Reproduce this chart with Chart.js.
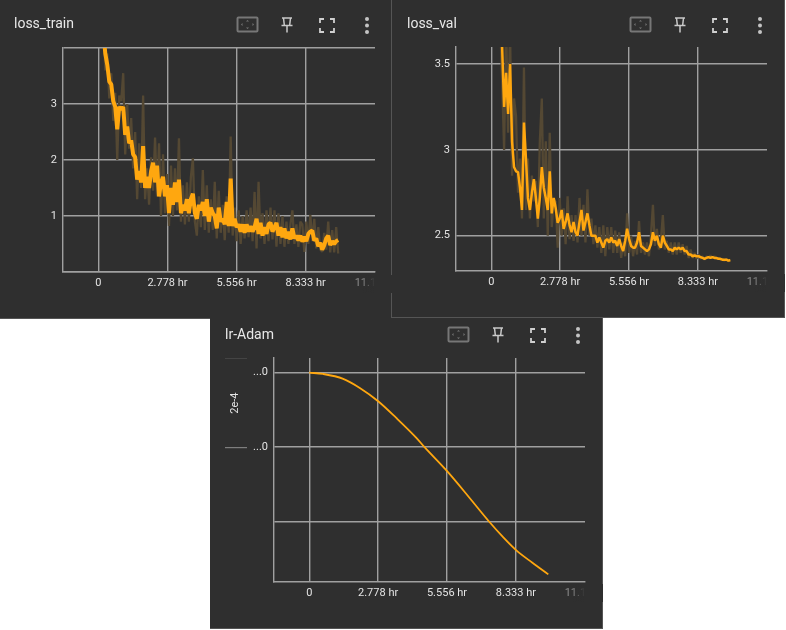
<!DOCTYPE html>
<html>
<head>
<meta charset="utf-8">
<title>TensorBoard scalars</title>
<script src="https://cdn.jsdelivr.net/npm/chart.js@4"></script>
<style>
  html, body { margin: 0; padding: 0; background: #fff; overflow: hidden; }
  .panel { position: absolute; background: #2f2f2f; box-sizing: border-box; border-right: 1px solid #555; border-bottom: 1px solid #555; }
  .panel canvas { position: absolute; left: 0; top: 0; }
  .name { position: absolute; left: 14px; top: 15px; color: #e8e8e8; font: 14px Roboto, sans-serif; }
  .cover { position: absolute; left: 352px; top: 0; width: 41px; height: 18px; background: linear-gradient(90deg, rgba(47,47,47,0) 0, rgba(47,47,47,0) 10px, #2f2f2f 23px); }
  .icons { position: absolute; left: 236px; top: 16px; }
</style>
</head>
<body>
<div class="panel" id="p1" style="left:0;top:0;width:392px;height:319px">
  <canvas id="trainChart" width="390" height="318"></canvas>
  <div class="name">loss_train</div>
  <svg class="icons" width="140" height="18"><use href="#bar"/></svg>
  <div class="cover" style="top:275px"></div>
</div>
<div class="panel" id="p2" style="left:392px;top:0;width:393px;height:318px">
  <canvas id="valChart" width="390" height="317"></canvas>
  <div class="name" style="left:15px">loss_val</div>
  <svg class="icons" style="left:237px" width="140" height="18"><use href="#bar"/></svg>
  <div class="cover" style="top:274px"></div>
</div>
<div class="panel" id="p3" style="left:210px;top:318px;width:393px;height:311px">
  <canvas id="lrChart" width="390" height="310"></canvas>
  <div class="name" style="left:15px;top:8px">lr-Adam</div>
  <svg class="icons" style="left:237px;top:8px" width="140" height="18"><use href="#bar"/></svg>
  <div class="cover" style="top:266px"></div>
</div>
<svg width="0" height="0" style="position:absolute">
  <defs>
    <g id="bar" fill="none">
      <rect x="1.5" y="1.5" width="20" height="14" rx="1" stroke="#777" stroke-width="2"/>
      <path d="M11.5 4l-1.5 1.5h3zM11.5 13l-1.5-1.5h3zM5 8.5l1.5-1.5v3zM18 8.5l-1.5-1.5v3z" fill="#777"/>
      <path d="M46 2h10M47.5 2l.8 7M54.5 2l-.8 7M45.5 9.5h11M51 9.5v7" stroke="#c9c9c9" stroke-width="1.5"/>
      <path d="M84 7v-4h4M94 3h4v4M98 12v4h-4M88 16h-4v-4" stroke="#d0d0d0" stroke-width="1.8"/>
      <circle cx="131" cy="3" r="2" fill="#c4c4c4"/>
      <circle cx="131" cy="9.5" r="2" fill="#c4c4c4"/>
      <circle cx="131" cy="16" r="2" fill="#c4c4c4"/>
    </g>
  </defs>
</svg>
<script>
// hours on the x axis
const hours = [
  0.2, 0.28, 0.36, 0.44, 0.52, 0.6, 0.68, 0.76, 0.84, 0.92,
  1.0, 1.08, 1.16, 1.24, 1.32, 1.4, 1.48, 1.56, 1.64, 1.72,
  1.8, 1.88, 1.96, 2.04, 2.12, 2.2, 2.28, 2.36, 2.44, 2.52,
  2.6, 2.68, 2.76, 2.84, 2.92, 3.0, 3.08, 3.16, 3.24, 3.32,
  3.4, 3.48, 3.56, 3.64, 3.72, 3.8, 3.88, 3.96, 4.04, 4.12,
  4.2, 4.28, 4.36, 4.44, 4.52, 4.6, 4.68, 4.76, 4.84, 4.92,
  5.0, 5.08, 5.16, 5.24, 5.32, 5.4, 5.48, 5.56, 5.64, 5.72,
  5.8, 5.88, 5.96, 6.04, 6.12, 6.2, 6.28, 6.36, 6.44, 6.52,
  6.6, 6.68, 6.76, 6.84, 6.92, 7.0, 7.08, 7.16, 7.24, 7.32,
  7.4, 7.48, 7.56, 7.64, 7.72, 7.8, 7.88, 7.96, 8.04, 8.12,
  8.2, 8.28, 8.36, 8.44, 8.52, 8.6, 8.68, 8.76, 8.84, 8.92,
  9.0, 9.08, 9.16, 9.24, 9.32, 9.4, 9.48, 9.56, 9.64
];

const trainSmooth = [
  4.3, 3.9, 3.7, 3.4, 3.35, 3.05, 2.95, 2.55, 2.95, 2.9,
  2.95, 2.45, 2.6, 2.3, 2.35, 2.1, 2.05, 1.65, 1.8, 1.6,
  2.25, 1.5, 1.7, 1.5, 1.8, 1.95, 1.6, 1.9, 1.35, 1.6,
  1.7, 1.35, 1.55, 1.05, 1.5, 1.2, 1.6, 1.25, 1.65, 1.05,
  1.2, 1.1, 1.3, 1.05, 1.3, 1.4, 1.05, 0.95, 1.2, 1.1,
  1.25, 1.0, 1.3, 0.9, 1.15, 1.05, 1.0, 0.78, 1.15, 0.9,
  0.95, 0.85, 1.25, 0.82, 1.67, 0.82, 0.95, 0.8, 0.85, 0.72,
  0.85, 0.7, 0.85, 0.72, 0.82, 0.72, 0.8, 0.95, 0.68, 0.88,
  0.65, 0.8, 0.68, 0.85, 0.88, 0.72, 0.8, 0.88, 0.65, 0.8,
  0.62, 0.78, 0.6, 0.72, 0.58, 0.78, 0.6, 0.65, 0.56, 0.65,
  0.54, 0.63, 0.55, 0.68, 0.72, 0.74, 0.56, 0.6, 0.46, 0.52,
  0.4, 0.48, 0.6, 0.65, 0.48, 0.55, 0.5, 0.55, 0.57
];
const trainRaw = [
  4.6, 3.6, 3.9, 3.1, 3.55, 2.7, 3.2, 2.0, 3.15, 3.05,
  3.55, 2.1, 3.0, 2.2, 2.75, 1.85, 2.5, 1.3, 2.3, 1.5,
  3.15, 1.3, 1.85, 1.2, 2.05, 1.45, 2.4, 1.35, 2.3, 1.0,
  2.1, 1.05, 1.75, 0.82, 1.9, 1.0, 1.85, 1.1, 2.39, 0.9,
  1.55, 0.85, 1.6, 0.9, 1.7, 2.03, 0.9, 0.65, 1.35, 0.8,
  1.82, 0.75, 1.55, 0.7, 1.3, 0.75, 1.61, 0.6, 1.45, 0.7,
  1.2, 0.57, 1.35, 0.7, 2.42, 0.65, 1.15, 0.55, 1.1, 0.5,
  1.0, 0.6, 1.1, 0.62, 1.15, 0.55, 1.43, 0.42, 1.61, 0.6,
  1.05, 0.5, 1.1, 0.55, 1.15, 0.58, 1.1, 0.45, 1.05, 0.5,
  1.0, 0.45, 0.9, 0.5, 0.85, 1.1, 0.5, 0.85, 0.45, 0.9,
  0.85, 0.36, 0.9, 0.5, 1.02, 0.55, 0.95, 0.42, 0.8, 0.4,
  0.36, 0.7, 0.4, 0.9, 0.35, 0.75, 0.35, 0.8, 0.33
];

const valSmooth = [
  null, null, 3.9, 3.6, 3.25, 3.45, 3.21, 3.5, 3.05, 2.9,
  2.875, 2.87, 2.78, 2.65, 3.16, 2.95, 2.72, 2.65, 2.75, 2.83,
  2.72, 2.6, 2.72, 2.9, 2.78, 2.72, 2.65, 2.875, 2.63, 2.72,
  2.66, 2.575, 2.6, 2.65, 2.54, 2.58, 2.63, 2.56, 2.52, 2.58,
  2.52, 2.5, 2.58, 2.65, 2.53, 2.58, 2.63, 2.56, 2.5, 2.5,
  2.5, 2.46, 2.49, 2.46, 2.43, 2.47, 2.48, 2.46, 2.49, 2.46,
  2.47, 2.44, 2.48, 2.44, 2.41, 2.47, 2.54, 2.48, 2.44, 2.43,
  2.43, 2.46, 2.52, 2.44, 2.43, 2.42, 2.41, 2.42, 2.45, 2.52,
  2.47, 2.5, 2.45, 2.43, 2.5, 2.46, 2.44, 2.42, 2.42, 2.41,
  2.43, 2.42, 2.43, 2.42, 2.43, 2.41, 2.41, 2.39, 2.39, 2.38,
  2.385, 2.38, 2.38, 2.375, 2.37, 2.365, 2.37, 2.375, 2.37, 2.375,
  2.37, 2.37, 2.365, 2.365, 2.36, 2.36, 2.36, 2.355, 2.357
];
const valRaw = [
  null, null, 3.75, 3.4, 3.0, 3.75, 3.1, 3.7, 2.85, 3.3,
  3.2, 2.75, 2.95, 2.6, 3.48, 2.65, 2.95, 2.6, 2.85, 2.7,
  2.82, 2.55, 3.05, 3.3, 2.6, 3.05, 2.5, 3.1, 2.55, 2.7,
  2.7, 2.43, 2.72, 2.5, 2.66, 2.45, 2.73, 2.48, 2.62, 2.47,
  2.62, 2.46, 2.72, 2.5, 2.68, 2.46, 2.77, 2.5, 2.6, 2.45,
  2.56, 2.43, 2.55, 2.4, 2.56, 2.38, 2.55, 2.42, 2.55, 2.4,
  2.53, 2.4, 2.52, 2.37, 2.46, 2.38, 2.63, 2.4, 2.5, 2.38,
  2.47, 2.39, 2.585, 2.4, 2.46, 2.39, 2.46, 2.38, 2.5, 2.68,
  2.44, 2.54, 2.42, 2.47, 2.62, 2.42, 2.47, 2.4, 2.46, 2.39,
  2.46, 2.39, 2.46, 2.4, 2.45, 2.39, 2.44, 2.37, 2.42, 2.37,
  2.4, 2.365, 2.39, 2.365, 2.38, 2.36, 2.38, 2.37, 2.385, 2.37,
  2.38, 2.365, 2.37, 2.36, 2.365, 2.355, 2.365, 2.35, 2.36
];

const lrHours = [0, 0.56, 1.37, 2.04, 2.78, 3.51, 4.32, 4.65, 5.56, 6.46, 7.26, 7.8, 8.34, 9.0, 9.64];
const lrValues = [2.0e-4, 1.991e-4, 1.958e-4, 1.897e-4, 1.808e-4, 1.696e-4, 1.5625e-4, 1.5e-4, 1.339e-4, 1.161e-4, 1.0e-4, 0.9e-4, 0.81e-4, 0.725e-4, 0.647e-4];

const xTickValues = [0, 2.778, 5.556, 8.333, 11.11];
const xTickLabels = ["0", "2.778 hr", "5.556 hr", "8.333 hr", "11.11 hr"];

const trainTicks = [0, 1, 2, 3, 4];
const trainTickLabels = ["", "1", "2", "3", ""];
const valTicks = [2.5, 3, 3.5];
const valTickLabels = ["2.5", "3", "3.5"];
const lrTicks = [1e-4, 1.5e-4, 2e-4];
const lrTickLabels = ["", "...0", "...0"];

const ORANGE = "#ffa70f";
const FAINT = "#544833";
const GRID = "#a0a0a0";
const LABEL = "#e4e4e4";

// the small "2e-4" bracket left of the lr axis
const lrMarker = {
  id: "lrMarker",
  afterDraw(chart) {
    const ctx = chart.ctx;
    const y = chart.scales.y;
    const mid = y.getPixelForValue(1.5e-4);
    ctx.save();
    ctx.strokeStyle = "#8f8f8f";
    ctx.beginPath();
    ctx.moveTo(15, mid + 0.5);
    ctx.lineTo(37, mid + 0.5);
    ctx.stroke();
    ctx.strokeStyle = "#444";
    ctx.beginPath();
    ctx.moveTo(15, y.top + 0.5);
    ctx.lineTo(37, y.top + 0.5);
    ctx.stroke();
    ctx.translate(25, mid - 44);
    ctx.rotate(-Math.PI / 2);
    ctx.fillStyle = LABEL;
    ctx.font = "11px Roboto";
    ctx.textAlign = "center";
    ctx.textBaseline = "middle";
    ctx.fillText("2e-4", 0, 0);
    ctx.restore();
  }
};

function toPoints(xs, ys) {
  return xs.map((x, i) => ({ x: x, y: ys[i] }));
}

function makeChart(id, cfg) {
  const canvas = document.getElementById(id);
  const area = cfg.area;
  const datasets = [{
    data: cfg.smooth, borderColor: ORANGE, borderWidth: cfg.lineWidth,
    pointRadius: 0, tension: 0, borderJoinStyle: "bevel",
    cubicInterpolationMode: cfg.raw ? "default" : "monotone"
  }];
  if (cfg.raw) {
    datasets.push({ data: cfg.raw, borderColor: FAINT, borderWidth: 2.3, pointRadius: 0, tension: 0, borderJoinStyle: "bevel" });
  }
  return new Chart(canvas.getContext("2d"), {
    type: "line",
    data: { datasets: datasets },
    plugins: cfg.plugins || [],
    options: {
      responsive: false,
      animation: false,
      layout: { padding: { left: 0, top: area.top, right: canvas.width - area.right, bottom: 0 } },
      plugins: { legend: { display: false }, tooltip: { enabled: false } },
      scales: {
        x: {
          type: "linear",
          min: -1.42,
          max: 11.12,
          afterBuildTicks: s => { s.ticks = xTickValues.map(v => ({ value: v })); },
          afterFit: s => {
            s.height = canvas.height - area.bottom;
            s.paddingLeft = 0;
            s.paddingRight = 0;
          },
          grid: { color: [GRID, GRID, GRID, GRID, "rgba(0,0,0,0)"], lineWidth: 1.4, drawTicks: false },
          border: { color: GRID, width: 1.4 },
          ticks: {
            autoSkip: false,
            maxRotation: 0,
            padding: 5,
            color: [LABEL, LABEL, LABEL, LABEL, "#8a8a8a"],
            font: { family: "Roboto", size: 11 },
            callback: (v, i) => xTickLabels[i]
          }
        },
        y: {
          min: cfg.yMin,
          max: cfg.yMax,
          afterBuildTicks: s => { s.ticks = cfg.yTicks.map(v => ({ value: v })); },
          afterFit: s => {
            s.width = area.left;
            s.paddingTop = 0;
            s.paddingBottom = 0;
          },
          grid: { color: GRID, lineWidth: 1.4, drawTicks: false },
          border: { color: GRID, width: 1.4 },
          ticks: {
            autoSkip: false,
            padding: 6,
            color: LABEL,
            font: { family: "Roboto", size: 11 },
            callback: (v, i) => cfg.yLabels[i]
          }
        }
      }
    }
  });
}

makeChart("trainChart", {
  area: { left: 63, top: 48, right: 375, bottom: 272 },
  smooth: toPoints(hours, trainSmooth),
  raw: toPoints(hours, trainRaw),
  lineWidth: 4,
  yMin: 0, yMax: 4,
  yTicks: trainTicks, yLabels: trainTickLabels
});

makeChart("valChart", {
  area: { left: 64, top: 47, right: 375, bottom: 271 },
  smooth: toPoints(hours, valSmooth),
  raw: toPoints(hours, valRaw),
  lineWidth: 2.5,
  yMin: 2.294, yMax: 3.6,
  yTicks: valTicks, yLabels: valTickLabels
});

makeChart("lrChart", {
  area: { left: 64, top: 40, right: 375, bottom: 264 },
  smooth: toPoints(lrHours, lrValues),
  lineWidth: 1.8,
  yMin: 0.596e-4, yMax: 2.098e-4,
  yTicks: lrTicks, yLabels: lrTickLabels,
  plugins: [lrMarker]
});
</script>
</body>
</html>
